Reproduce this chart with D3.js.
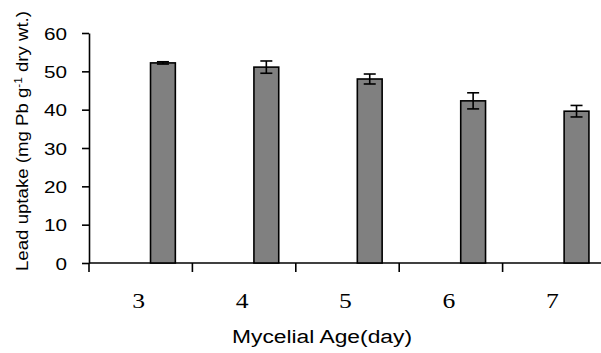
<!DOCTYPE html>
<html>
<head>
<meta charset="utf-8">
<script src="https://cdn.jsdelivr.net/npm/d3@7"></script>
<style>
  body { margin: 0; background: #fff; }
  svg { display: block; }
</style>
</head>
<body>
<script>
const width = 601;
const height = 353;

// data
const ages = ["3", "4", "5", "6", "7"];
const uptake = [52.2, 51.1, 48.0, 42.3, 39.6];
const uptakeErr = [0.3, 1.6, 1.3, 2.1, 1.5];
const yTicks = [0, 10, 20, 30, 40, 50, 60];

const rows = ages.map((a, i) => ({ age: a, value: uptake[i], err: uptakeErr[i] }));

const SVG = d3.select("body").append("svg")
  .attr("width", width)
  .attr("height", height);

SVG.append("rect").attr("width", width).attr("height", height).attr("fill", "#fff");

const x = d3.scaleBand().domain(ages).range([89, 606]).padding(0);
const y = d3.scaleLinear().domain([0, 60]).range([263, 33]);

// bars sit right of the category centre (excel style)
const bw = x.bandwidth();
const barX = d => x(d.age) + bw * 0.595;
const barW = bw * 0.24;

const stretch = "scale(1.22,1)";

// y axis
const yAxis = SVG.append("g")
  .attr("transform", "translate(89,0)")
  .call(d3.axisLeft(y).tickValues(yTicks).tickSize(7).tickPadding(11).tickSizeOuter(0));
yAxis.select(".domain").attr("stroke", "#000").attr("stroke-width", 1.6);
yAxis.selectAll(".tick line").attr("stroke", "#000").attr("stroke-width", 1.6);
yAxis.selectAll(".tick text")
  .attr("font-family", "Liberation Sans, Arial, sans-serif")
  .attr("font-size", "17px")
  .attr("fill", "#000")
  .attr("dy", "0.36em")
  .attr("transform", stretch);

// x axis: ticks between the categories
const xTicksPos = ages.map(a => x(a));
const xAxis = SVG.append("g");
xAxis.append("line")
  .attr("x1", 89).attr("x2", width)
  .attr("y1", y(0)).attr("y2", y(0))
  .attr("stroke", "#000").attr("stroke-width", 1.6);
xAxis.selectAll(".xtick")
  .data(xTicksPos)
  .enter()
  .append("line")
  .attr("class", "xtick")
  .attr("x1", d => d).attr("x2", d => d)
  .attr("y1", y(0)).attr("y2", y(0) + 9)
  .attr("stroke", "#000").attr("stroke-width", 1.6);

xAxis.selectAll(".xlabel")
  .data(ages)
  .enter()
  .append("text")
  .attr("class", "xlabel")
  .attr("transform", d => `translate(${x(d) + bw / 2 - 2},308) ${stretch}`)
  .attr("text-anchor", "middle")
  .attr("font-family", "Liberation Serif, Times New Roman, serif")
  .attr("font-size", "21px")
  .attr("fill", "#000")
  .text(d => d);

// bars
SVG.selectAll(".bar")
  .data(rows)
  .enter()
  .append("rect")
  .attr("class", "bar")
  .attr("x", barX)
  .attr("y", d => y(d.value))
  .attr("width", barW)
  .attr("height", d => y(0) - y(d.value))
  .attr("fill", "#808080")
  .attr("stroke", "#000")
  .attr("stroke-width", 1.6);

// error bars
const eb = SVG.selectAll(".err")
  .data(rows)
  .enter()
  .append("g")
  .attr("class", "err")
  .attr("stroke", "#000")
  .attr("stroke-width", 1.6);
eb.append("line")
  .attr("x1", d => barX(d) + barW / 2).attr("x2", d => barX(d) + barW / 2)
  .attr("y1", d => y(d.value + d.err)).attr("y2", d => y(d.value - d.err));
[1, -1].forEach(s => {
  eb.append("line")
    .attr("x1", d => barX(d) + barW / 2 - 6).attr("x2", d => barX(d) + barW / 2 + 6)
    .attr("y1", d => y(d.value + s * d.err)).attr("y2", d => y(d.value + s * d.err));
});

// axis titles
SVG.append("text")
  .attr("x", 322).attr("y", 343)
  .attr("text-anchor", "middle")
  .attr("font-family", "Liberation Sans, Arial, sans-serif")
  .attr("font-size", "18px")
  .attr("fill", "#000")
  .attr("textLength", 180)
  .attr("lengthAdjust", "spacingAndGlyphs")
  .text("Mycelial Age(day)");

const yTitle = SVG.append("text")
  .attr("transform", "translate(28,141) rotate(-90)")
  .attr("text-anchor", "middle")
  .attr("font-family", "Liberation Sans, Arial, sans-serif")
  .attr("font-size", "16px")
  .attr("fill", "#000")
  .attr("textLength", 260)
  .attr("lengthAdjust", "spacingAndGlyphs");
yTitle.append("tspan").text("Lead uptake (mg Pb g");
yTitle.append("tspan").attr("dy", -6).attr("font-size", "10px").text("-1");
yTitle.append("tspan").attr("dy", 6).text(" dry wt.)");
</script>
</body>
</html>
